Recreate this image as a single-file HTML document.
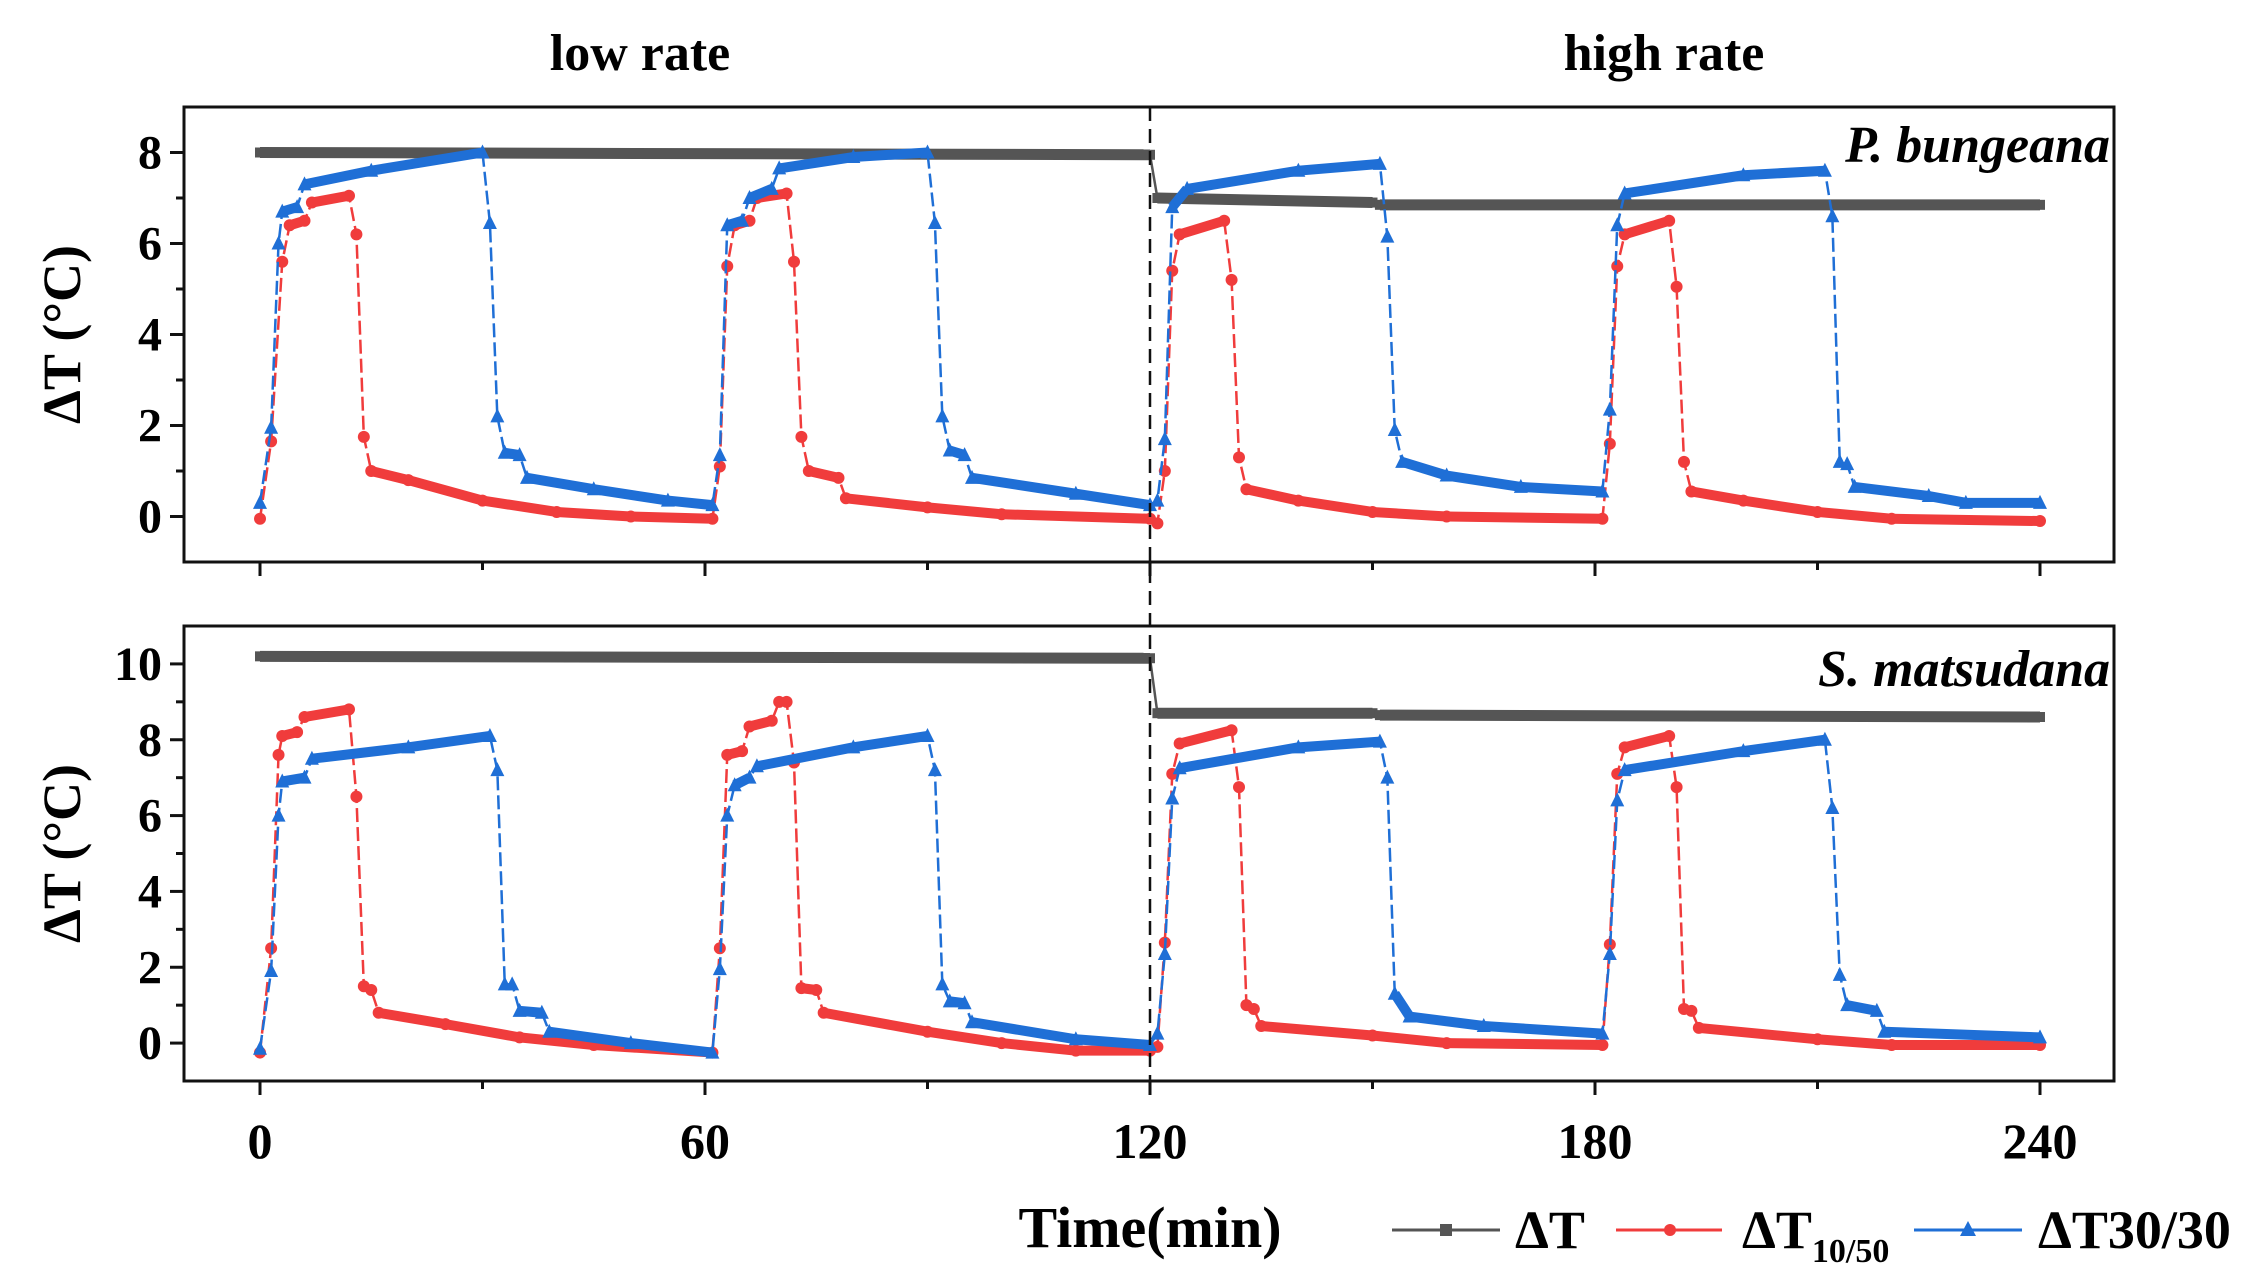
<!DOCTYPE html>
<html><head><meta charset="utf-8"><style>
html,body{margin:0;padding:0;background:#fff;}
svg{display:block;font-family:"Liberation Serif",serif;font-weight:bold;}
</style></head><body>
<svg id="chart" width="2249" height="1279" viewBox="0 0 2249 1279">
<rect width="2249" height="1279" fill="#fff"/>
<text x="640" y="70" font-size="52" text-anchor="middle">low rate</text>
<text x="1664" y="70" font-size="52" text-anchor="middle">high rate</text>
<text x="1150" y="1247" font-size="58" text-anchor="middle">Time(min)</text>
<g id="plots"></g>
<g>
 <g>
  <line x1="1392" y1="1230" x2="1500" y2="1230" stroke="#555" stroke-width="3"/>
  <rect x="1440" y="1224" width="12" height="12" fill="#555"/>
  <text x="1515" y="1248" font-size="54">ΔT</text>
 </g>
 <g>
  <line x1="1616" y1="1230" x2="1722" y2="1230" stroke="#f03c3c" stroke-width="3"/>
  <circle cx="1670" cy="1230" r="6" fill="#f03c3c"/>
  <text x="1742" y="1248" font-size="54">ΔT<tspan font-size="34" dy="14">10/50</tspan></text>
 </g>
 <g>
  <line x1="1914" y1="1230" x2="2022" y2="1230" stroke="#1f6fd6" stroke-width="3"/>
  <polygon points="1968,1221 1976,1236 1960,1236" fill="#1f6fd6"/>
  <text x="2038" y="1248" font-size="54">ΔT30/30</text>
 </g>
</g>
</svg>
<script>
// ---- data: P. bungeana (top) ----
const topGrayT=[0,120,121,150,151,240];
const topGrayV=[8.0,7.95,7.0,6.9,6.85,6.85];
const topRedT=[0,1.5,3,4,6,7,12,13,14,15,20,30,40,50,61,62,63,64,66,67,71,72,73,74,78,79,90,100,120,121,122,123,124,130,131,132,133,140,150,160,181,182,183,184,190,191,192,193,200,210,220,240];
const topRedV=[-0.05,1.65,5.6,6.4,6.5,6.9,7.05,6.2,1.75,1.0,0.8,0.35,0.1,0.0,-0.05,1.1,5.5,6.4,6.5,7.0,7.1,5.6,1.75,1.0,0.85,0.4,0.2,0.05,-0.05,-0.15,1.0,5.4,6.2,6.5,5.2,1.3,0.6,0.35,0.1,0.0,-0.05,1.6,5.5,6.2,6.5,5.05,1.2,0.55,0.35,0.1,-0.05,-0.1];
const topBlueT=[0,1.5,2.5,3,5,6,15,30,31,32,33,35,36,45,55,61,62,63,65,66,69,70,80,90,91,92,93,95,96,110,120,121,122,123,125,140,151,152,153,154,160,170,181,182,183,184,200,211,212,213,214,215,225,230,240];
const topBlueV=[0.3,1.95,6.0,6.7,6.8,7.3,7.6,8.0,6.45,2.2,1.4,1.35,0.85,0.6,0.35,0.25,1.35,6.4,6.5,7.0,7.2,7.65,7.9,8.0,6.45,2.2,1.45,1.35,0.85,0.5,0.25,0.35,1.7,6.8,7.2,7.6,7.75,6.15,1.9,1.2,0.9,0.65,0.55,2.35,6.4,7.1,7.5,7.6,6.6,1.2,1.15,0.65,0.45,0.3,0.3];
// ---- data: S. matsudana (bottom) ----
const botGrayT=[0,120,121,150,151,240];
const botGrayV=[10.2,10.15,8.7,8.7,8.65,8.6];
const botRedT=[0,1.5,2.5,3,5,6,12,13,14,15,16,25,35,45,61,62,63,65,66,69,70,71,72,73,75,76,90,100,110,120,121,122,123,124,131,132,133,134,135,150,160,181,182,183,184,190,191,192,193,194,210,220,240];
const botRedV=[-0.25,2.5,7.6,8.1,8.2,8.6,8.8,6.5,1.5,1.4,0.8,0.5,0.15,-0.05,-0.25,2.5,7.6,7.7,8.35,8.5,9.0,9.0,7.4,1.45,1.4,0.8,0.3,0.0,-0.2,-0.2,-0.1,2.65,7.1,7.9,8.25,6.75,1.0,0.9,0.45,0.2,0.0,-0.05,2.6,7.1,7.8,8.1,6.75,0.9,0.85,0.4,0.1,-0.05,-0.05];
const botBlueT=[0,1.5,2.5,3,6,7,20,31,32,33,34,35,38,39,50,61,62,63,64,66,67,80,90,91,92,93,95,96,110,120,121,122,123,124,140,151,152,153,155,165,181,182,183,184,200,211,212,213,214,218,219,240];
const botBlueV=[-0.15,1.9,6.0,6.9,7.0,7.5,7.8,8.1,7.2,1.55,1.55,0.85,0.8,0.3,0.0,-0.25,1.95,6.0,6.8,7.0,7.3,7.8,8.1,7.2,1.55,1.1,1.05,0.55,0.1,-0.05,0.25,2.35,6.45,7.25,7.8,7.95,7.0,1.3,0.7,0.45,0.25,2.35,6.4,7.2,7.7,8.0,6.2,1.8,1.0,0.85,0.3,0.15];
const xTicks=[0,60,120,180,240];
const topYTicks=[0,2,4,6,8];
const botYTicks=[0,2,4,6,8,10];

const NS="http://www.w3.org/2000/svg";
const root=document.getElementById('plots');
const X0=260,X1=2040,FL=184,FR=2114;
const xs=t=>X0+(X1-X0)*t/240;
function mk(tag,attrs,parent){const e=document.createElementNS(NS,tag);for(const k in attrs)e.setAttribute(k,attrs[k]);(parent||root).appendChild(e);return e;}

function panel(name,top,bot,ymin,ymax,yTicks,label,labelY,series){
  const g=mk('g',{});
  
  
  const ys=v=>bot-(bot-top)*(v-ymin)/(ymax-ymin);
  const fr=mk('rect',{x:FL,y:top,width:FR-FL,height:bot-top,fill:'none',stroke:'#111','stroke-width':3},g);
  
  
  for(let v=ymin+1;v<ymax;v++){
    const major=yTicks.includes(v);
    const t=mk('line',{x1:FL-(major?14:8),x2:FL,y1:ys(v),y2:ys(v),stroke:'#111','stroke-width':3},g);
    
    
  }
  yTicks.forEach(v=>{
    const t=mk('text',{x:FL-22,y:ys(v)+16,'font-size':48,'text-anchor':'end'},g);
    t.textContent=v;
    
    
  });
  for(let t=0;t<=240;t+=30){
    const major=xTicks.includes(t);
    const l=mk('line',{x1:xs(t),x2:xs(t),y1:bot,y2:bot+(major?14:8),stroke:'#111','stroke-width':3},g);
    
    
  }
  const yt=mk('text',{x:0,y:0,'font-size':54,'text-anchor':'middle',transform:`translate(80,${(top+bot)/2}) rotate(-90)`},g);
  yt.textContent='ΔT (°C)';
  
  
  const sp=mk('text',{x:2110,y:labelY,'font-size':52,'text-anchor':'end','font-style':'italic'},g);
  sp.textContent=label;
  
  
  series.forEach(s=>{
    const sg=mk('g',{},g);
    
    
    const pts=s.T.map((t,i)=>xs(t)+','+ys(s.V[i])).join(' ');
    mk('polyline',{points:pts,fill:'none',stroke:s.color,'stroke-width':2.5,'stroke-dasharray':s.dash||'none'},sg);
    for(let i=0;i<s.T.length-1;i++){
      if(s.T[i+1]-s.T[i]>=1.5 && Math.abs(s.V[i+1]-s.V[i])<1){
        mk('line',{x1:xs(s.T[i]),y1:ys(s.V[i]),x2:xs(s.T[i+1]),y2:ys(s.V[i+1]),stroke:s.color,'stroke-width':s.w},sg);
      }
    }
    s.T.forEach((t,i)=>{
      const cx=xs(t),cy=ys(s.V[i]);let m;
      if(s.marker==='sq')m=mk('rect',{x:cx-5,y:cy-5,width:10,height:10,fill:s.color},sg);
      else if(s.marker==='c')m=mk('circle',{cx,cy,r:6,fill:s.color},sg);
      else m=mk('polygon',{points:`${cx},${cy-8} ${cx+7},${cy+6} ${cx-7},${cy+6}`,fill:s.color},sg);
      
      
    });
  });
  return ys;
}
panel('panel-p-bungeana',107,562,-1,9,topYTicks,'P. bungeana',162,[
  {name:'series-dt',T:topGrayT,V:topGrayV,color:'#555',marker:'sq',w:11},
  {name:'series-dt1050',T:topRedT,V:topRedV,color:'#f03c3c',marker:'c',w:10,dash:'14 5'},
  {name:'series-dt3030',T:topBlueT,V:topBlueV,color:'#1f6fd6',marker:'t',w:10,dash:'14 5'}
]);
panel('panel-s-matsudana',626,1081,-1,11,botYTicks,'S. matsudana',686,[
  {name:'series-dt',T:botGrayT,V:botGrayV,color:'#555',marker:'sq',w:11},
  {name:'series-dt1050',T:botRedT,V:botRedV,color:'#f03c3c',marker:'c',w:10,dash:'14 5'},
  {name:'series-dt3030',T:botBlueT,V:botBlueV,color:'#1f6fd6',marker:'t',w:10,dash:'14 5'}
]);
xTicks.forEach(t=>{
  const e=mk('text',{x:xs(t),y:1158,'font-size':50,'text-anchor':'middle'});
  e.textContent=t;
  
  
});
const dl=mk('line',{x1:xs(120),x2:xs(120),y1:107,y2:1081,stroke:'#111','stroke-width':2.5,'stroke-dasharray':'14 8'});


</script>
</body></html>
